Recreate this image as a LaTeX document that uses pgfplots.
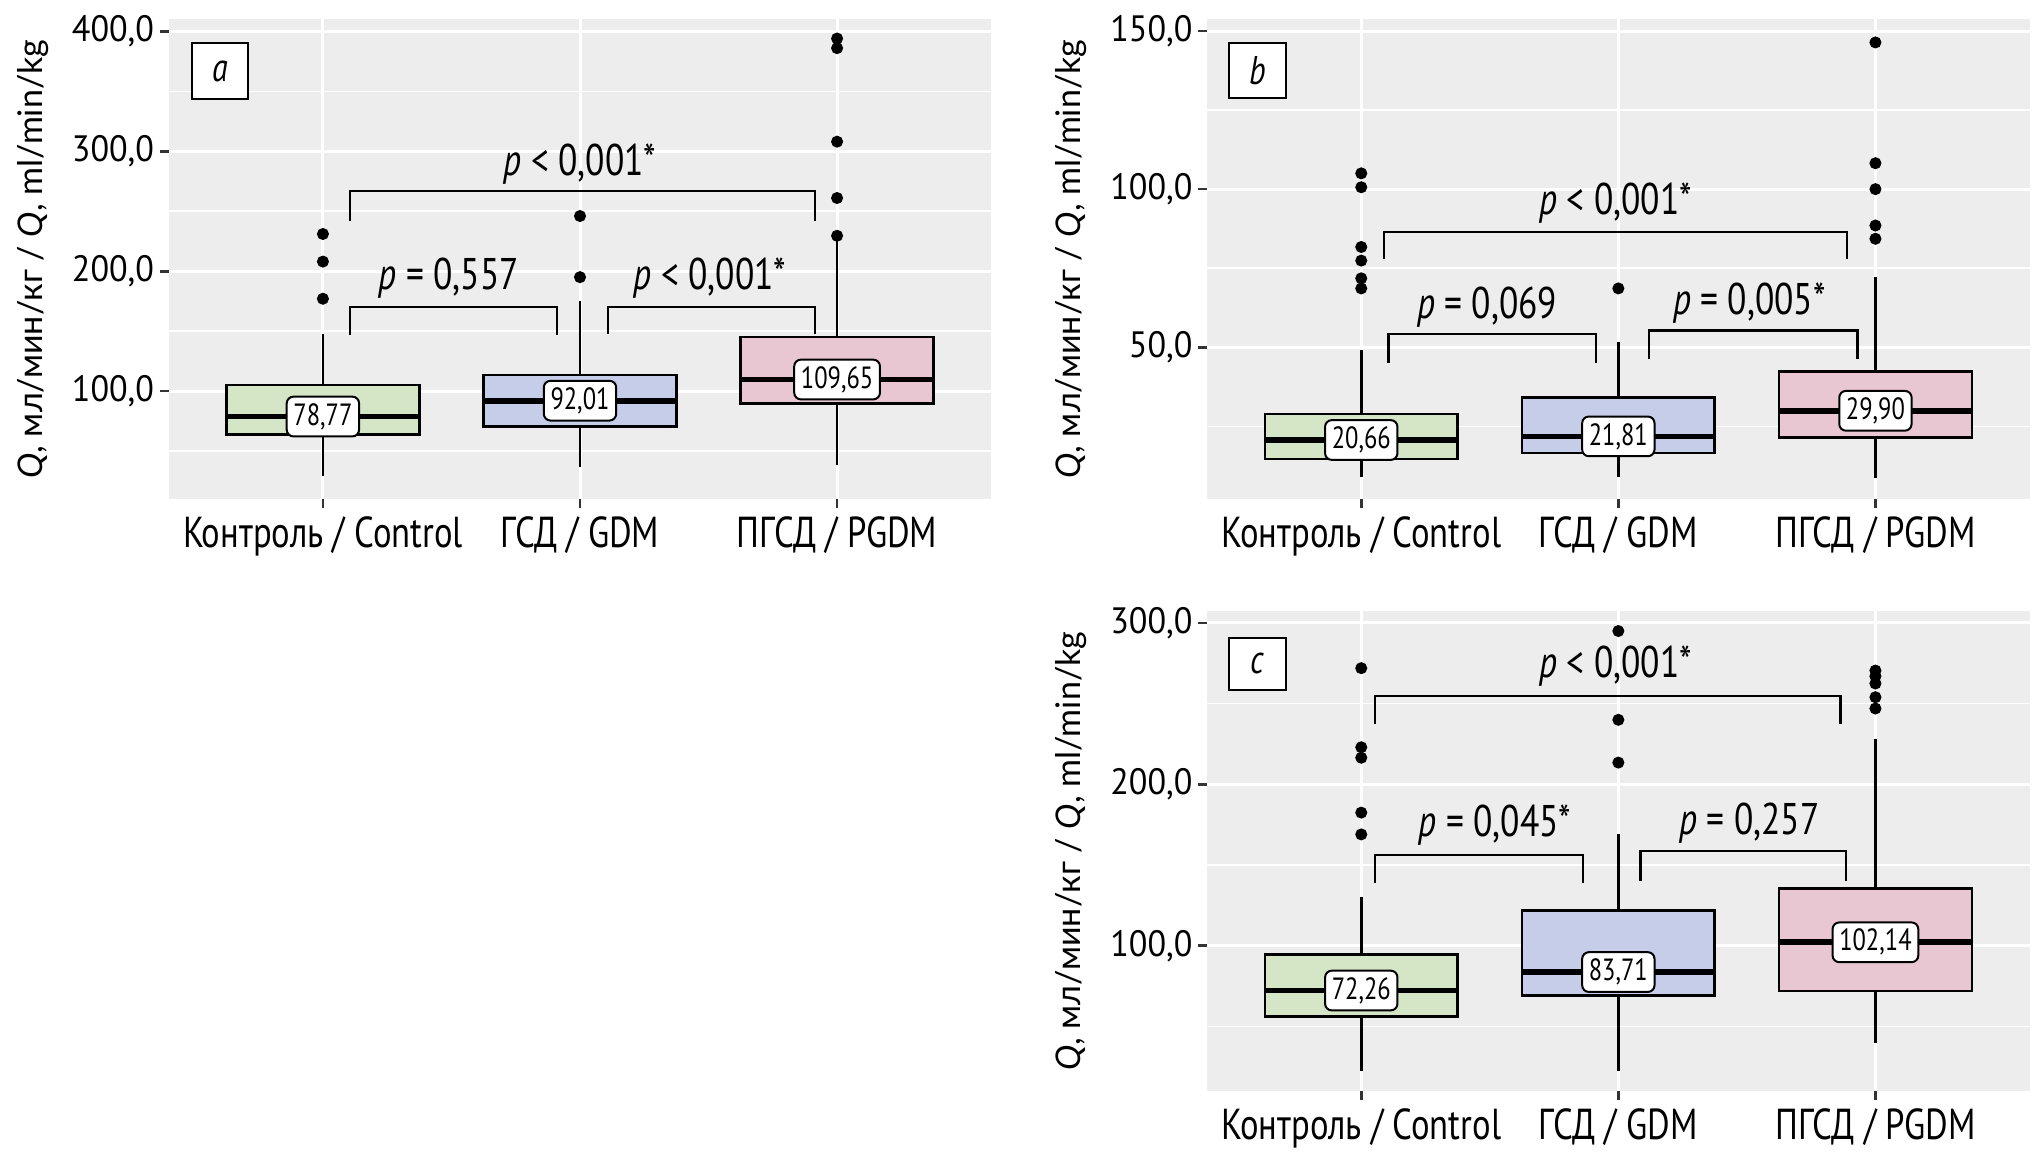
\documentclass[border=0pt]{standalone}
\usepackage{fontspec}
\setmainfont{PT Sans}[FakeStretch=0.8]
\newfontfamily\tickfont{PT Sans}[FakeStretch=0.93]
\newfontfamily\labfont{Lato}
\usepackage{pgfplots}
\pgfplotsset{compat=1.18}

\definecolor{bggray}{HTML}{EDEDED}
\definecolor{cgreen}{HTML}{D4E6C6}
\definecolor{cblue}{HTML}{C6CDE8}
\definecolor{cpink}{HTML}{E8C6D2}

\pgfplotsset{
  gg/.style={
    scale only axis, anchor=south west,
    width=246.8pt, height=143.9pt,
    xmin=0.4, xmax=3.6,
    xtick={1,2,3},
    xticklabels={Контроль / Control, ГСД / GDM, ПГСД / PGDM},
    axis line style={draw=none},
    axis background/.style={fill=bggray},
    xmajorgrids, ymajorgrids, yminorgrids,
    major grid style={white, line width=0.9pt},
    minor grid style={white, line width=0.45pt},
    tick pos=left,
    tick align=outside, major tick length=2.6pt, minor tick length=0pt,
    tick style={black!80, line width=0.8pt},
    yticklabel style={font=\tickfont\fontsize{11}{12}\selectfont, inner xsep=1.6pt},
    xticklabel style={font=\fontsize{13}{15}\selectfont, yshift=0.7pt},
    /pgf/number format/assume math mode=true,
    /pgf/number format/fixed,
    /pgf/number format/fixed zerofill,
    /pgf/number format/precision=1,
    /pgf/number format/use comma,
    /pgf/number format/1000 sep={},
    ylabel={\textit{Q}, мл/мин/кг / \textit{Q}, ml/min/kg},
    ylabel style={font=\labfont\fontsize{10.2}{12}\selectfont,
      at={(axis description cs:-0.165,0.5)}, anchor=center},
    clip=false,
  },
  outl/.style={only marks, mark=*, mark size=1.6pt, black},
  brk/.style={black, line width=0.65pt},
}
\tikzset{plab/.style={font=\fontsize{13.3}{15}\selectfont},
  panel/.style={font=\fontsize{12}{14}\selectfont\itshape},
  med/.style={draw=black, fill=white, rounded corners=2pt, line width=0.6pt,
    inner xsep=2pt, inner ysep=2pt, font=\fontsize{9.2}{10}\selectfont}}

% position, lower whisker, Q1, median, Q3, upper whisker, fill
\newcommand{\ggbox}[7]{%
  \pgfmathsetmacro\xl{#1-0.375}%
  \pgfmathsetmacro\xr{#1+0.375}%
  \addplot[black, line width=0.75pt] coordinates {(#1,#2) (#1,#3)};
  \addplot[black, line width=0.75pt] coordinates {(#1,#5) (#1,#6)};
  \addplot[fill=#7, draw=black, line width=0.8pt] coordinates {(\xl,#3) (\xr,#3) (\xr,#5) (\xl,#5)} -- cycle;
  \addplot[black, line width=1.7pt] coordinates {(\xl,#4) (\xr,#4)};
}

\begin{document}
\begin{tikzpicture}
\path[use as bounding box] (0,0) rectangle (609.6pt,346.5pt);

% ---------- panel a ----------
\begin{axis}[gg, at={(50.6pt,196.8pt)}, ymin=10, ymax=410,
  ytick={100,200,300,400}, minor ytick={50,150,250,350}]
\ggbox{1}{29}{64}{78.77}{105}{148}{cgreen}
\ggbox{2}{37}{70.5}{92.01}{113.5}{175}{cblue}
\ggbox{3}{38.5}{89.5}{109.65}{145}{226}{cpink}
\addplot[outl] coordinates {(1,231) (1,208) (1,177) (2,246) (2,195)
  (3,229.5) (3,261) (3,308) (3,386) (3,394)};
\addplot[brk] coordinates {(1.106,242) (1.106,266.8) (2.914,266.8) (2.914,242)};
\addplot[brk] coordinates {(1.106,146.6) (1.106,170.4) (1.912,170.4) (1.912,146.6)};
\addplot[brk] coordinates {(2.108,148) (2.108,170.4) (2.914,170.4) (2.914,148)};
\node[med] at (axis cs:1,78.77) {78,77};
\node[med] at (axis cs:2,92.01) {92,01};
\node[med] at (axis cs:3,109.65) {109,65};
\node[plab] at (axis cs:2.0,289.6) {\textit{p} < 0,001*};
\node[plab] at (axis cs:1.49,194) {\textit{p} = 0,557};
\node[plab] at (axis cs:2.506,194) {\textit{p} < 0,001*};
\draw[black, fill=white, line width=0.6pt] (axis cs:0.491,390) rectangle (axis cs:0.708,343.7);
\node[panel] at (axis cs:0.6,366.8) {a};
\end{axis}

% ---------- panel b ----------
\begin{axis}[gg, at={(362.1pt,196.8pt)}, ymin=2, ymax=153.7,
  ytick={50,100,150}, minor ytick={25,75,125}]
\ggbox{1}{9}{14.7}{20.66}{28.9}{49}{cgreen}
\ggbox{2}{9}{16.5}{21.81}{34}{51.7}{cblue}
\ggbox{3}{8.5}{21.5}{29.90}{42.3}{72.3}{cpink}
\addplot[outl] coordinates {(1,105) (1,100.6) (1,81.7) (1,77.4) (1,71.8) (1,68.6)
  (2,68.6) (3,146.4) (3,108.2) (3,100) (3,88.5) (3,84.3)};
\addplot[brk] coordinates {(1.09,77.9) (1.09,86.5) (2.89,86.5) (2.89,77.9)};
\addplot[brk] coordinates {(1.106,45.1) (1.106,54.1) (1.914,54.1) (1.914,45.1)};
\addplot[brk] coordinates {(2.12,46.3) (2.12,55.3) (2.93,55.3) (2.93,46.3)};
\node[med] at (axis cs:1,20.66) {20,66};
\node[med] at (axis cs:2,21.81) {21,81};
\node[med] at (axis cs:3,29.90) {29,90};
\node[plab] at (axis cs:1.99,95.5) {\textit{p} < 0,001*};
\node[plab] at (axis cs:1.49,62.7) {\textit{p} = 0,069};
\node[plab] at (axis cs:2.51,63.9) {\textit{p} = 0,005*};
\draw[black, fill=white, line width=0.6pt] (axis cs:0.486,146.3) rectangle (axis cs:0.708,128.7);
\node[panel] at (axis cs:0.597,137.5) {b};
\end{axis}

% ---------- panel c ----------
\begin{axis}[gg, at={(362.1pt,19.2pt)}, ymin=10, ymax=307.2,
  ytick={100,200,300}, minor ytick={50,150,250}]
\ggbox{1}{22.5}{56.2}{72.26}{94.4}{130}{cgreen}
\ggbox{2}{22.5}{69.2}{83.71}{121.8}{169}{cblue}
\ggbox{3}{40}{71.9}{102.14}{135.3}{228}{cpink}
\addplot[outl] coordinates {(1,272) (1,223) (1,216.5) (1,182.5) (1,169)
  (2,295) (2,240) (2,213.5)
  (3,270.5) (3,267) (3,262.5) (3,254) (3,247)};
\addplot[brk] coordinates {(1.055,237.3) (1.055,255) (2.864,255) (2.864,237.3)};
\addplot[brk] coordinates {(1.055,138.6) (1.055,156.2) (1.861,156.2) (1.861,138.6)};
\addplot[brk] coordinates {(2.086,140.2) (2.086,158.6) (2.887,158.6) (2.887,140.2)};
\node[med] at (axis cs:1,72.26) {72,26};
\node[med] at (axis cs:2,83.71) {83,71};
\node[med] at (axis cs:3,102.14) {102,14};
\node[plab] at (axis cs:1.99,273.5) {\textit{p} < 0,001*};
\node[plab] at (axis cs:1.52,175) {\textit{p} = 0,045*};
\node[plab] at (axis cs:2.51,176) {\textit{p} = 0,257};
\draw[black, fill=white, line width=0.6pt] (axis cs:0.486,291) rectangle (axis cs:0.708,258.2);
\node[panel] at (axis cs:0.597,274.6) {c};
\end{axis}
\end{tikzpicture}
\end{document}
